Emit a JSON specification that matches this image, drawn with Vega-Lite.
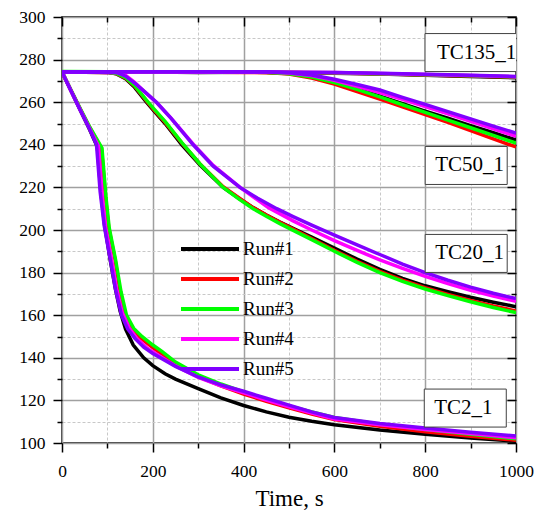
{
  "$schema": "https://vega.github.io/schema/vega-lite/v6.json",
  "width": 454,
  "height": 426,
  "autosize": {"type": "none"},
  "padding": {"left": 62, "top": 17, "right": 30, "bottom": 69},
  "background": "white",
  "config": {
    "view": {"stroke": "black", "strokeWidth": 1.5},
    "font": "Liberation Serif",
    "axis": {"labelFont": "Liberation Serif", "titleFont": "Liberation Serif", "labelFontWeight": "normal"},
    "legend": {
      "orient": "none", "legendX": 117, "legendY": 217, "title": null,
      "symbolType": "stroke", "symbolSize": 3364, "symbolStrokeWidth": 4,
      "clipHeight": 30, "rowPadding": 0, "labelFont": "Liberation Serif", "labelFontWeight": "normal",
      "labelFontSize": 19, "labelColor": "black", "labelOffset": 2, "padding": 0, "labelLimit": 200
    }
  },
  "datasets": {
    "curves": [
      {"run":"Run#1","tc":"TC135_1","t":0,"v":274.2},{"run":"Run#1","tc":"TC135_1","t":100,"v":274.1},{"run":"Run#1","tc":"TC135_1","t":200,"v":274.2},{"run":"Run#1","tc":"TC135_1","t":300,"v":274.0},{"run":"Run#1","tc":"TC135_1","t":400,"v":274.1},{"run":"Run#1","tc":"TC135_1","t":500,"v":273.9},{"run":"Run#1","tc":"TC135_1","t":600,"v":273.6},{"run":"Run#1","tc":"TC135_1","t":700,"v":273.2},{"run":"Run#1","tc":"TC135_1","t":800,"v":272.7},{"run":"Run#1","tc":"TC135_1","t":900,"v":272.1},{"run":"Run#1","tc":"TC135_1","t":1000,"v":271.5},
      {"run":"Run#1","tc":"TC50_1","t":0,"v":274.2},{"run":"Run#1","tc":"TC50_1","t":450,"v":274.1},{"run":"Run#1","tc":"TC50_1","t":500,"v":273.5},{"run":"Run#1","tc":"TC50_1","t":550,"v":272.0},{"run":"Run#1","tc":"TC50_1","t":600,"v":269.5},{"run":"Run#1","tc":"TC50_1","t":650,"v":266.3},{"run":"Run#1","tc":"TC50_1","t":700,"v":262.8},{"run":"Run#1","tc":"TC50_1","t":750,"v":259.3},{"run":"Run#1","tc":"TC50_1","t":800,"v":255.8},{"run":"Run#1","tc":"TC50_1","t":850,"v":252.5},{"run":"Run#1","tc":"TC50_1","t":900,"v":249.0},{"run":"Run#1","tc":"TC50_1","t":950,"v":245.7},{"run":"Run#1","tc":"TC50_1","t":1000,"v":242.3},
      {"run":"Run#1","tc":"TC20_1","t":0,"v":274.2},{"run":"Run#1","tc":"TC20_1","t":100,"v":274.0},{"run":"Run#1","tc":"TC20_1","t":120,"v":273.3},{"run":"Run#1","tc":"TC20_1","t":140,"v":271.0},{"run":"Run#1","tc":"TC20_1","t":160,"v":267.0},{"run":"Run#1","tc":"TC20_1","t":186,"v":260.0},{"run":"Run#1","tc":"TC20_1","t":200,"v":256.5},{"run":"Run#1","tc":"TC20_1","t":227,"v":250.0},{"run":"Run#1","tc":"TC20_1","t":264,"v":240.0},{"run":"Run#1","tc":"TC20_1","t":304,"v":230.5},{"run":"Run#1","tc":"TC20_1","t":355,"v":220.0},{"run":"Run#1","tc":"TC20_1","t":390,"v":214.8},{"run":"Run#1","tc":"TC20_1","t":421,"v":210.5},{"run":"Run#1","tc":"TC20_1","t":450,"v":207.0},{"run":"Run#1","tc":"TC20_1","t":480,"v":203.7},{"run":"Run#1","tc":"TC20_1","t":517,"v":200.0},{"run":"Run#1","tc":"TC20_1","t":550,"v":196.7},{"run":"Run#1","tc":"TC20_1","t":600,"v":191.5},{"run":"Run#1","tc":"TC20_1","t":650,"v":186.3},{"run":"Run#1","tc":"TC20_1","t":700,"v":181.5},{"run":"Run#1","tc":"TC20_1","t":750,"v":177.3},{"run":"Run#1","tc":"TC20_1","t":800,"v":173.8},{"run":"Run#1","tc":"TC20_1","t":850,"v":171.0},{"run":"Run#1","tc":"TC20_1","t":900,"v":168.4},{"run":"Run#1","tc":"TC20_1","t":950,"v":166.1},{"run":"Run#1","tc":"TC20_1","t":1000,"v":164.0},
      {"run":"Run#1","tc":"TC2_1","t":0,"v":274.2},{"run":"Run#1","tc":"TC2_1","t":20,"v":265.2},{"run":"Run#1","tc":"TC2_1","t":40,"v":256.4},{"run":"Run#1","tc":"TC2_1","t":60,"v":247.5},{"run":"Run#1","tc":"TC2_1","t":78,"v":239.0},{"run":"Run#1","tc":"TC2_1","t":81,"v":230.0},{"run":"Run#1","tc":"TC2_1","t":86,"v":217.0},{"run":"Run#1","tc":"TC2_1","t":94,"v":202.0},{"run":"Run#1","tc":"TC2_1","t":107,"v":185.0},{"run":"Run#1","tc":"TC2_1","t":118,"v":172.0},{"run":"Run#1","tc":"TC2_1","t":128,"v":162.0},{"run":"Run#1","tc":"TC2_1","t":140,"v":153.5},{"run":"Run#1","tc":"TC2_1","t":157,"v":146.0},{"run":"Run#1","tc":"TC2_1","t":180,"v":140.0},{"run":"Run#1","tc":"TC2_1","t":200,"v":136.3},{"run":"Run#1","tc":"TC2_1","t":227,"v":132.5},{"run":"Run#1","tc":"TC2_1","t":250,"v":130.0},{"run":"Run#1","tc":"TC2_1","t":300,"v":125.5},{"run":"Run#1","tc":"TC2_1","t":350,"v":121.2},{"run":"Run#1","tc":"TC2_1","t":400,"v":117.6},{"run":"Run#1","tc":"TC2_1","t":450,"v":114.6},{"run":"Run#1","tc":"TC2_1","t":500,"v":112.1},{"run":"Run#1","tc":"TC2_1","t":550,"v":110.2},{"run":"Run#1","tc":"TC2_1","t":600,"v":108.6},{"run":"Run#1","tc":"TC2_1","t":700,"v":106.1},{"run":"Run#1","tc":"TC2_1","t":800,"v":104.1},{"run":"Run#1","tc":"TC2_1","t":900,"v":102.4},{"run":"Run#1","tc":"TC2_1","t":1000,"v":100.8},

      {"run":"Run#2","tc":"TC135_1","t":0,"v":274.3},{"run":"Run#2","tc":"TC135_1","t":100,"v":274.2},{"run":"Run#2","tc":"TC135_1","t":200,"v":274.1},{"run":"Run#2","tc":"TC135_1","t":300,"v":274.2},{"run":"Run#2","tc":"TC135_1","t":400,"v":274.0},{"run":"Run#2","tc":"TC135_1","t":500,"v":273.9},{"run":"Run#2","tc":"TC135_1","t":600,"v":273.7},{"run":"Run#2","tc":"TC135_1","t":700,"v":273.3},{"run":"Run#2","tc":"TC135_1","t":800,"v":272.8},{"run":"Run#2","tc":"TC135_1","t":900,"v":272.3},{"run":"Run#2","tc":"TC135_1","t":1000,"v":271.8},
      {"run":"Run#2","tc":"TC50_1","t":0,"v":274.2},{"run":"Run#2","tc":"TC50_1","t":450,"v":274.0},{"run":"Run#2","tc":"TC50_1","t":500,"v":273.2},{"run":"Run#2","tc":"TC50_1","t":550,"v":271.3},{"run":"Run#2","tc":"TC50_1","t":600,"v":268.5},{"run":"Run#2","tc":"TC50_1","t":650,"v":265.0},{"run":"Run#2","tc":"TC50_1","t":700,"v":261.5},{"run":"Run#2","tc":"TC50_1","t":750,"v":257.8},{"run":"Run#2","tc":"TC50_1","t":800,"v":254.2},{"run":"Run#2","tc":"TC50_1","t":850,"v":250.5},{"run":"Run#2","tc":"TC50_1","t":900,"v":246.7},{"run":"Run#2","tc":"TC50_1","t":950,"v":242.8},{"run":"Run#2","tc":"TC50_1","t":1000,"v":239.0},
      {"run":"Run#2","tc":"TC20_1","t":0,"v":274.2},{"run":"Run#2","tc":"TC20_1","t":100,"v":274.0},{"run":"Run#2","tc":"TC20_1","t":120,"v":273.4},{"run":"Run#2","tc":"TC20_1","t":140,"v":271.3},{"run":"Run#2","tc":"TC20_1","t":160,"v":267.5},{"run":"Run#2","tc":"TC20_1","t":186,"v":260.6},{"run":"Run#2","tc":"TC20_1","t":200,"v":257.0},{"run":"Run#2","tc":"TC20_1","t":227,"v":250.5},{"run":"Run#2","tc":"TC20_1","t":264,"v":240.8},{"run":"Run#2","tc":"TC20_1","t":304,"v":231.0},{"run":"Run#2","tc":"TC20_1","t":355,"v":220.3},{"run":"Run#2","tc":"TC20_1","t":390,"v":215.0},{"run":"Run#2","tc":"TC20_1","t":421,"v":210.5},{"run":"Run#2","tc":"TC20_1","t":450,"v":207.0},{"run":"Run#2","tc":"TC20_1","t":480,"v":203.6},{"run":"Run#2","tc":"TC20_1","t":517,"v":199.6},{"run":"Run#2","tc":"TC20_1","t":550,"v":196.0},{"run":"Run#2","tc":"TC20_1","t":600,"v":190.5},{"run":"Run#2","tc":"TC20_1","t":650,"v":185.3},{"run":"Run#2","tc":"TC20_1","t":700,"v":180.6},{"run":"Run#2","tc":"TC20_1","t":750,"v":176.5},{"run":"Run#2","tc":"TC20_1","t":800,"v":172.9},{"run":"Run#2","tc":"TC20_1","t":850,"v":169.8},{"run":"Run#2","tc":"TC20_1","t":900,"v":166.9},{"run":"Run#2","tc":"TC20_1","t":950,"v":164.3},{"run":"Run#2","tc":"TC20_1","t":1000,"v":162.0},
      {"run":"Run#2","tc":"TC2_1","t":0,"v":274.2},{"run":"Run#2","tc":"TC2_1","t":20,"v":265.5},{"run":"Run#2","tc":"TC2_1","t":40,"v":256.9},{"run":"Run#2","tc":"TC2_1","t":60,"v":248.5},{"run":"Run#2","tc":"TC2_1","t":87,"v":238.2},{"run":"Run#2","tc":"TC2_1","t":91,"v":228.0},{"run":"Run#2","tc":"TC2_1","t":96,"v":215.0},{"run":"Run#2","tc":"TC2_1","t":103,"v":201.0},{"run":"Run#2","tc":"TC2_1","t":117,"v":186.0},{"run":"Run#2","tc":"TC2_1","t":128,"v":171.0},{"run":"Run#2","tc":"TC2_1","t":140,"v":160.0},{"run":"Run#2","tc":"TC2_1","t":155,"v":153.5},{"run":"Run#2","tc":"TC2_1","t":175,"v":149.0},{"run":"Run#2","tc":"TC2_1","t":200,"v":144.8},{"run":"Run#2","tc":"TC2_1","t":220,"v":141.8},{"run":"Run#2","tc":"TC2_1","t":250,"v":137.0},{"run":"Run#2","tc":"TC2_1","t":300,"v":131.2},{"run":"Run#2","tc":"TC2_1","t":350,"v":126.8},{"run":"Run#2","tc":"TC2_1","t":400,"v":123.0},{"run":"Run#2","tc":"TC2_1","t":450,"v":119.6},{"run":"Run#2","tc":"TC2_1","t":500,"v":116.5},{"run":"Run#2","tc":"TC2_1","t":550,"v":113.6},{"run":"Run#2","tc":"TC2_1","t":600,"v":111.0},{"run":"Run#2","tc":"TC2_1","t":700,"v":107.8},{"run":"Run#2","tc":"TC2_1","t":800,"v":105.3},{"run":"Run#2","tc":"TC2_1","t":900,"v":103.2},{"run":"Run#2","tc":"TC2_1","t":1000,"v":101.3},

      {"run":"Run#3","tc":"TC135_1","t":0,"v":274.4},{"run":"Run#3","tc":"TC135_1","t":100,"v":274.3},{"run":"Run#3","tc":"TC135_1","t":200,"v":274.3},{"run":"Run#3","tc":"TC135_1","t":300,"v":274.2},{"run":"Run#3","tc":"TC135_1","t":400,"v":274.1},{"run":"Run#3","tc":"TC135_1","t":500,"v":274.0},{"run":"Run#3","tc":"TC135_1","t":600,"v":273.8},{"run":"Run#3","tc":"TC135_1","t":700,"v":273.4},{"run":"Run#3","tc":"TC135_1","t":800,"v":272.9},{"run":"Run#3","tc":"TC135_1","t":900,"v":272.4},{"run":"Run#3","tc":"TC135_1","t":1000,"v":271.9},
      {"run":"Run#3","tc":"TC50_1","t":0,"v":274.3},{"run":"Run#3","tc":"TC50_1","t":450,"v":274.1},{"run":"Run#3","tc":"TC50_1","t":500,"v":273.4},{"run":"Run#3","tc":"TC50_1","t":550,"v":271.8},{"run":"Run#3","tc":"TC50_1","t":600,"v":269.2},{"run":"Run#3","tc":"TC50_1","t":650,"v":266.0},{"run":"Run#3","tc":"TC50_1","t":700,"v":262.5},{"run":"Run#3","tc":"TC50_1","t":750,"v":258.8},{"run":"Run#3","tc":"TC50_1","t":800,"v":255.2},{"run":"Run#3","tc":"TC50_1","t":850,"v":251.6},{"run":"Run#3","tc":"TC50_1","t":900,"v":248.0},{"run":"Run#3","tc":"TC50_1","t":950,"v":244.4},{"run":"Run#3","tc":"TC50_1","t":1000,"v":240.8},
      {"run":"Run#3","tc":"TC20_1","t":0,"v":274.3},{"run":"Run#3","tc":"TC20_1","t":100,"v":274.1},{"run":"Run#3","tc":"TC20_1","t":120,"v":273.5},{"run":"Run#3","tc":"TC20_1","t":140,"v":271.5},{"run":"Run#3","tc":"TC20_1","t":160,"v":267.8},{"run":"Run#3","tc":"TC20_1","t":186,"v":261.0},{"run":"Run#3","tc":"TC20_1","t":200,"v":257.5},{"run":"Run#3","tc":"TC20_1","t":227,"v":251.0},{"run":"Run#3","tc":"TC20_1","t":264,"v":241.0},{"run":"Run#3","tc":"TC20_1","t":304,"v":231.0},{"run":"Run#3","tc":"TC20_1","t":355,"v":220.0},{"run":"Run#3","tc":"TC20_1","t":390,"v":214.5},{"run":"Run#3","tc":"TC20_1","t":421,"v":210.0},{"run":"Run#3","tc":"TC20_1","t":450,"v":206.5},{"run":"Run#3","tc":"TC20_1","t":480,"v":203.0},{"run":"Run#3","tc":"TC20_1","t":517,"v":199.0},{"run":"Run#3","tc":"TC20_1","t":550,"v":195.5},{"run":"Run#3","tc":"TC20_1","t":600,"v":190.0},{"run":"Run#3","tc":"TC20_1","t":650,"v":184.8},{"run":"Run#3","tc":"TC20_1","t":700,"v":180.0},{"run":"Run#3","tc":"TC20_1","t":750,"v":175.9},{"run":"Run#3","tc":"TC20_1","t":800,"v":172.3},{"run":"Run#3","tc":"TC20_1","t":850,"v":169.2},{"run":"Run#3","tc":"TC20_1","t":900,"v":166.3},{"run":"Run#3","tc":"TC20_1","t":950,"v":163.6},{"run":"Run#3","tc":"TC20_1","t":1000,"v":161.2},
      {"run":"Run#3","tc":"TC2_1","t":0,"v":274.3},{"run":"Run#3","tc":"TC2_1","t":20,"v":265.6},{"run":"Run#3","tc":"TC2_1","t":40,"v":257.0},{"run":"Run#3","tc":"TC2_1","t":60,"v":248.8},{"run":"Run#3","tc":"TC2_1","t":88,"v":238.5},{"run":"Run#3","tc":"TC2_1","t":92,"v":228.0},{"run":"Run#3","tc":"TC2_1","t":97,"v":215.0},{"run":"Run#3","tc":"TC2_1","t":104,"v":201.0},{"run":"Run#3","tc":"TC2_1","t":118,"v":186.0},{"run":"Run#3","tc":"TC2_1","t":130,"v":171.0},{"run":"Run#3","tc":"TC2_1","t":142,"v":160.0},{"run":"Run#3","tc":"TC2_1","t":158,"v":153.8},{"run":"Run#3","tc":"TC2_1","t":176,"v":150.0},{"run":"Run#3","tc":"TC2_1","t":200,"v":146.0},{"run":"Run#3","tc":"TC2_1","t":220,"v":143.0},{"run":"Run#3","tc":"TC2_1","t":250,"v":138.0},{"run":"Run#3","tc":"TC2_1","t":300,"v":132.0},{"run":"Run#3","tc":"TC2_1","t":350,"v":127.7},{"run":"Run#3","tc":"TC2_1","t":400,"v":124.0},{"run":"Run#3","tc":"TC2_1","t":450,"v":120.6},{"run":"Run#3","tc":"TC2_1","t":500,"v":117.4},{"run":"Run#3","tc":"TC2_1","t":550,"v":114.6},{"run":"Run#3","tc":"TC2_1","t":600,"v":112.0},{"run":"Run#3","tc":"TC2_1","t":700,"v":108.8},{"run":"Run#3","tc":"TC2_1","t":800,"v":106.3},{"run":"Run#3","tc":"TC2_1","t":900,"v":104.1},{"run":"Run#3","tc":"TC2_1","t":1000,"v":102.0},

      {"run":"Run#4","tc":"TC135_1","t":0,"v":274.3},{"run":"Run#4","tc":"TC135_1","t":100,"v":274.3},{"run":"Run#4","tc":"TC135_1","t":200,"v":274.3},{"run":"Run#4","tc":"TC135_1","t":300,"v":274.2},{"run":"Run#4","tc":"TC135_1","t":400,"v":274.2},{"run":"Run#4","tc":"TC135_1","t":500,"v":274.1},{"run":"Run#4","tc":"TC135_1","t":600,"v":273.9},{"run":"Run#4","tc":"TC135_1","t":700,"v":273.5},{"run":"Run#4","tc":"TC135_1","t":800,"v":273.0},{"run":"Run#4","tc":"TC135_1","t":900,"v":272.5},{"run":"Run#4","tc":"TC135_1","t":1000,"v":272.0},
      {"run":"Run#4","tc":"TC50_1","t":0,"v":274.3},{"run":"Run#4","tc":"TC50_1","t":450,"v":274.2},{"run":"Run#4","tc":"TC50_1","t":500,"v":273.7},{"run":"Run#4","tc":"TC50_1","t":550,"v":272.5},{"run":"Run#4","tc":"TC50_1","t":600,"v":270.3},{"run":"Run#4","tc":"TC50_1","t":650,"v":267.5},{"run":"Run#4","tc":"TC50_1","t":700,"v":264.5},{"run":"Run#4","tc":"TC50_1","t":750,"v":261.3},{"run":"Run#4","tc":"TC50_1","t":800,"v":258.0},{"run":"Run#4","tc":"TC50_1","t":850,"v":254.5},{"run":"Run#4","tc":"TC50_1","t":900,"v":251.0},{"run":"Run#4","tc":"TC50_1","t":950,"v":247.5},{"run":"Run#4","tc":"TC50_1","t":1000,"v":244.0},
      {"run":"Run#4","tc":"TC20_1","t":0,"v":274.3},{"run":"Run#4","tc":"TC20_1","t":120,"v":274.0},{"run":"Run#4","tc":"TC20_1","t":140,"v":272.6},{"run":"Run#4","tc":"TC20_1","t":160,"v":269.3},{"run":"Run#4","tc":"TC20_1","t":180,"v":265.3},{"run":"Run#4","tc":"TC20_1","t":210,"v":259.5},{"run":"Run#4","tc":"TC20_1","t":240,"v":252.5},{"run":"Run#4","tc":"TC20_1","t":289,"v":240.3},{"run":"Run#4","tc":"TC20_1","t":333,"v":230.3},{"run":"Run#4","tc":"TC20_1","t":392,"v":220.0},{"run":"Run#4","tc":"TC20_1","t":455,"v":210.5},{"run":"Run#4","tc":"TC20_1","t":509,"v":204.3},{"run":"Run#4","tc":"TC20_1","t":550,"v":200.0},{"run":"Run#4","tc":"TC20_1","t":600,"v":195.0},{"run":"Run#4","tc":"TC20_1","t":650,"v":190.4},{"run":"Run#4","tc":"TC20_1","t":700,"v":186.0},{"run":"Run#4","tc":"TC20_1","t":750,"v":182.0},{"run":"Run#4","tc":"TC20_1","t":800,"v":178.2},{"run":"Run#4","tc":"TC20_1","t":850,"v":174.8},{"run":"Run#4","tc":"TC20_1","t":900,"v":171.7},{"run":"Run#4","tc":"TC20_1","t":950,"v":169.0},{"run":"Run#4","tc":"TC20_1","t":1000,"v":166.5},
      {"run":"Run#4","tc":"TC2_1","t":0,"v":274.2},{"run":"Run#4","tc":"TC2_1","t":20,"v":265.3},{"run":"Run#4","tc":"TC2_1","t":40,"v":256.5},{"run":"Run#4","tc":"TC2_1","t":60,"v":248.0},{"run":"Run#4","tc":"TC2_1","t":80,"v":239.5},{"run":"Run#4","tc":"TC2_1","t":84,"v":229.0},{"run":"Run#4","tc":"TC2_1","t":89,"v":215.0},{"run":"Run#4","tc":"TC2_1","t":96,"v":201.0},{"run":"Run#4","tc":"TC2_1","t":109,"v":186.5},{"run":"Run#4","tc":"TC2_1","t":120,"v":172.5},{"run":"Run#4","tc":"TC2_1","t":133,"v":161.0},{"run":"Run#4","tc":"TC2_1","t":148,"v":154.0},{"run":"Run#4","tc":"TC2_1","t":165,"v":149.0},{"run":"Run#4","tc":"TC2_1","t":185,"v":145.0},{"run":"Run#4","tc":"TC2_1","t":200,"v":142.8},{"run":"Run#4","tc":"TC2_1","t":250,"v":136.2},{"run":"Run#4","tc":"TC2_1","t":300,"v":130.8},{"run":"Run#4","tc":"TC2_1","t":350,"v":126.8},{"run":"Run#4","tc":"TC2_1","t":400,"v":123.5},{"run":"Run#4","tc":"TC2_1","t":450,"v":120.2},{"run":"Run#4","tc":"TC2_1","t":500,"v":117.0},{"run":"Run#4","tc":"TC2_1","t":550,"v":114.0},{"run":"Run#4","tc":"TC2_1","t":600,"v":111.3},{"run":"Run#4","tc":"TC2_1","t":700,"v":108.6},{"run":"Run#4","tc":"TC2_1","t":800,"v":106.3},{"run":"Run#4","tc":"TC2_1","t":900,"v":104.4},{"run":"Run#4","tc":"TC2_1","t":1000,"v":102.5},

      {"run":"Run#5","tc":"TC135_1","t":0,"v":274.3},{"run":"Run#5","tc":"TC135_1","t":100,"v":274.3},{"run":"Run#5","tc":"TC135_1","t":200,"v":274.3},{"run":"Run#5","tc":"TC135_1","t":300,"v":274.3},{"run":"Run#5","tc":"TC135_1","t":400,"v":274.2},{"run":"Run#5","tc":"TC135_1","t":500,"v":274.1},{"run":"Run#5","tc":"TC135_1","t":600,"v":273.9},{"run":"Run#5","tc":"TC135_1","t":700,"v":273.6},{"run":"Run#5","tc":"TC135_1","t":800,"v":273.1},{"run":"Run#5","tc":"TC135_1","t":900,"v":272.6},{"run":"Run#5","tc":"TC135_1","t":1000,"v":272.1},
      {"run":"Run#5","tc":"TC50_1","t":0,"v":274.3},{"run":"Run#5","tc":"TC50_1","t":450,"v":274.3},{"run":"Run#5","tc":"TC50_1","t":500,"v":273.8},{"run":"Run#5","tc":"TC50_1","t":550,"v":272.8},{"run":"Run#5","tc":"TC50_1","t":600,"v":270.8},{"run":"Run#5","tc":"TC50_1","t":650,"v":268.3},{"run":"Run#5","tc":"TC50_1","t":700,"v":265.7},{"run":"Run#5","tc":"TC50_1","t":750,"v":262.3},{"run":"Run#5","tc":"TC50_1","t":800,"v":259.0},{"run":"Run#5","tc":"TC50_1","t":850,"v":255.6},{"run":"Run#5","tc":"TC50_1","t":900,"v":252.2},{"run":"Run#5","tc":"TC50_1","t":950,"v":248.8},{"run":"Run#5","tc":"TC50_1","t":1000,"v":245.5},
      {"run":"Run#5","tc":"TC20_1","t":0,"v":274.3},{"run":"Run#5","tc":"TC20_1","t":120,"v":274.0},{"run":"Run#5","tc":"TC20_1","t":140,"v":272.2},{"run":"Run#5","tc":"TC20_1","t":160,"v":269.0},{"run":"Run#5","tc":"TC20_1","t":180,"v":265.3},{"run":"Run#5","tc":"TC20_1","t":208,"v":260.0},{"run":"Run#5","tc":"TC20_1","t":240,"v":252.5},{"run":"Run#5","tc":"TC20_1","t":289,"v":240.0},{"run":"Run#5","tc":"TC20_1","t":333,"v":230.0},{"run":"Run#5","tc":"TC20_1","t":392,"v":220.0},{"run":"Run#5","tc":"TC20_1","t":430,"v":215.0},{"run":"Run#5","tc":"TC20_1","t":473,"v":210.0},{"run":"Run#5","tc":"TC20_1","t":509,"v":206.3},{"run":"Run#5","tc":"TC20_1","t":550,"v":202.3},{"run":"Run#5","tc":"TC20_1","t":600,"v":197.6},{"run":"Run#5","tc":"TC20_1","t":650,"v":193.0},{"run":"Run#5","tc":"TC20_1","t":700,"v":188.5},{"run":"Run#5","tc":"TC20_1","t":750,"v":184.0},{"run":"Run#5","tc":"TC20_1","t":800,"v":180.0},{"run":"Run#5","tc":"TC20_1","t":850,"v":176.4},{"run":"Run#5","tc":"TC20_1","t":900,"v":173.2},{"run":"Run#5","tc":"TC20_1","t":950,"v":170.3},{"run":"Run#5","tc":"TC20_1","t":1000,"v":167.8},
      {"run":"Run#5","tc":"TC2_1","t":0,"v":274.2},{"run":"Run#5","tc":"TC2_1","t":20,"v":265.2},{"run":"Run#5","tc":"TC2_1","t":40,"v":256.4},{"run":"Run#5","tc":"TC2_1","t":60,"v":247.8},{"run":"Run#5","tc":"TC2_1","t":76,"v":240.0},{"run":"Run#5","tc":"TC2_1","t":79,"v":232.0},{"run":"Run#5","tc":"TC2_1","t":84,"v":218.0},{"run":"Run#5","tc":"TC2_1","t":93,"v":202.0},{"run":"Run#5","tc":"TC2_1","t":106,"v":186.5},{"run":"Run#5","tc":"TC2_1","t":118,"v":172.0},{"run":"Run#5","tc":"TC2_1","t":131,"v":160.0},{"run":"Run#5","tc":"TC2_1","t":145,"v":153.5},{"run":"Run#5","tc":"TC2_1","t":161,"v":149.0},{"run":"Run#5","tc":"TC2_1","t":180,"v":145.0},{"run":"Run#5","tc":"TC2_1","t":200,"v":142.0},{"run":"Run#5","tc":"TC2_1","t":250,"v":136.0},{"run":"Run#5","tc":"TC2_1","t":300,"v":131.0},{"run":"Run#5","tc":"TC2_1","t":350,"v":127.3},{"run":"Run#5","tc":"TC2_1","t":400,"v":124.3},{"run":"Run#5","tc":"TC2_1","t":450,"v":121.0},{"run":"Run#5","tc":"TC2_1","t":500,"v":117.8},{"run":"Run#5","tc":"TC2_1","t":550,"v":114.6},{"run":"Run#5","tc":"TC2_1","t":600,"v":112.0},{"run":"Run#5","tc":"TC2_1","t":700,"v":109.2},{"run":"Run#5","tc":"TC2_1","t":800,"v":107.0},{"run":"Run#5","tc":"TC2_1","t":900,"v":105.0},{"run":"Run#5","tc":"TC2_1","t":1000,"v":103.3}
    ],
    "labels": [
      {"label": "TC135_1", "t": 826, "v": 283.3},
      {"label": "TC50_1", "t": 822, "v": 230.3},
      {"label": "TC20_1", "t": 822, "v": 189.0},
      {"label": "TC2_1", "t": 820, "v": 116.4}
    ]
  },
  "layer": [
    {
      "data": {"name": "curves"},
      "mark": {"type": "line", "strokeWidth": 3.5, "clip": true},
      "encoding": {
        "x": {
          "field": "t", "type": "quantitative",
          "scale": {"domain": [0, 1000], "nice": false, "zero": false},
          "axis": {
            "orient": "bottom",
            "values": [0,100,200,300,400,500,600,700,800,900,1000],
            "labelExpr": "datum.value % 200 === 0 ? format(datum.value, 'd') : ''",
            "title": "Time, s",
            "grid": true,
            "gridColor": {"condition": {"test": "datum.value % 200 === 0", "value": "#a0a0a0"}, "value": "#c8c8c8"},
            "gridDash": {"condition": {"test": "datum.value % 200 === 0", "value": []}, "value": [3, 2]},
            "gridWidth": {"condition": {"test": "datum.value % 200 === 0", "value": 1.5}, "value": 1},
            "tickSize": {"condition": {"test": "datum.value % 200 === 0", "value": 9}, "value": 5},
            "tickColor": "black", "tickWidth": 1.5, "domain": false,
            "labelFont": "Liberation Serif", "labelFontSize": 17.5, "labelColor": "black", "labelFontWeight": "normal",
            "labelPadding": 10, "labelFlush": false, "labelOverlap": false,
            "titleFont": "Liberation Serif", "titleFontSize": 23, "titleFontWeight": "normal",
            "titleColor": "black", "titlePadding": 8
          }
        },
        "y": {
          "field": "v", "type": "quantitative",
          "scale": {"domain": [100, 300], "nice": false, "zero": false},
          "axis": {
            "orient": "left",
            "values": [100,110,120,130,140,150,160,170,180,190,200,210,220,230,240,250,260,270,280,290,300],
            "labelExpr": "datum.value % 20 === 0 ? format(datum.value, 'd') : ''",
            "title": null,
            "grid": true,
            "gridColor": {"condition": {"test": "datum.value % 20 === 0", "value": "#a0a0a0"}, "value": "#c8c8c8"},
            "gridDash": {"condition": {"test": "datum.value % 20 === 0", "value": []}, "value": [3, 2]},
            "gridWidth": {"condition": {"test": "datum.value % 20 === 0", "value": 1.5}, "value": 1},
            "tickSize": {"condition": {"test": "datum.value % 20 === 0", "value": 9}, "value": 5},
            "tickColor": "black", "tickWidth": 1.5, "domain": false,
            "labelFont": "Liberation Serif", "labelFontSize": 17.5, "labelColor": "black", "labelFontWeight": "normal",
            "labelPadding": 8, "labelFlush": false, "labelOverlap": false
          }
        },
        "color": {
          "field": "run", "type": "nominal",
          "scale": {"domain": ["Run#1","Run#2","Run#3","Run#4","Run#5"], "range": ["#000000","#ff0000","#00ff00","#ff00ff","#8000ff"]},
          "legend": {"labelFont": "Liberation Serif", "labelFontSize": 19, "labelFontWeight": "normal"}
        },
        "detail": {"field": "tc"}
      }
    },
    {
      "data": {"name": "labels"},
      "transform": [{"filter": "length(datum.label) == 6 || length(datum.label) == 5"}],
      "mark": {"type": "rect", "fill": "white", "stroke": "#404040", "strokeWidth": 1, "width": 82, "height": 38, "xOffset": 31, "clip": true},
      "encoding": {
        "x": {
          "field": "t", "type": "quantitative",
          "scale": {"domain": [0, 1000], "nice": false, "zero": false},
          "axis": {
            "orient": "top",
            "values": [0,100,200,300,400,500,600,700,800,900,1000],
            "labels": false, "title": null, "grid": false, "domain": false,
            "tickSize": {"condition": {"test": "datum.value % 200 === 0", "value": -9}, "value": -5},
            "tickColor": "black", "tickWidth": 1.5
          }
        },
        "y": {
          "field": "v", "type": "quantitative",
          "scale": {"domain": [100, 300], "nice": false, "zero": false},
          "axis": {
            "orient": "right",
            "values": [100,110,120,130,140,150,160,170,180,190,200,210,220,230,240,250,260,270,280,290,300],
            "labels": false, "title": null, "grid": false, "domain": false,
            "tickSize": {"condition": {"test": "datum.value % 20 === 0", "value": -9}, "value": -5},
            "tickColor": "black", "tickWidth": 1.5
          }
        }
      }
    },
    {
      "data": {"name": "labels"},
      "transform": [{"filter": "length(datum.label) == 7"}],
      "mark": {"type": "rect", "fill": "white", "stroke": "#404040", "strokeWidth": 1, "width": 92, "height": 38, "xOffset": 34, "clip": true},
      "encoding": {
        "x": {"field": "t", "type": "quantitative", "scale": {"domain": [0, 1000], "nice": false, "zero": false}, "axis": null},
        "y": {"field": "v", "type": "quantitative", "scale": {"domain": [100, 300], "nice": false, "zero": false}, "axis": null}
      }
    },
    {
      "data": {"name": "labels"},
      "mark": {"type": "text", "align": "left", "baseline": "middle", "font": "Liberation Serif", "fontSize": 21, "color": "black", "clip": true},
      "encoding": {
        "x": {"field": "t", "type": "quantitative", "scale": {"domain": [0, 1000], "nice": false, "zero": false}, "axis": null},
        "y": {"field": "v", "type": "quantitative", "scale": {"domain": [100, 300], "nice": false, "zero": false}, "axis": null},
        "text": {"field": "label"}
      }
    }
  ],
  "resolve": {"axis": {"x": "independent", "y": "independent"}}
}
